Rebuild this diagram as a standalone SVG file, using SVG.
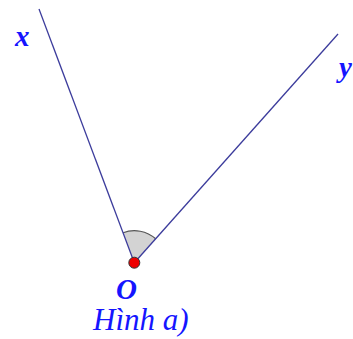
<svg xmlns="http://www.w3.org/2000/svg" width="353" height="339" viewBox="0 0 353 339">
<style>
.ray{stroke:#3c3c9c;stroke-width:1.3;fill:none}
.lbl{font-family:"Liberation Serif",serif;font-style:italic;font-weight:bold;fill:#1515ff}
.cap{font-family:"Liberation Serif",serif;font-style:italic;fill:#1515ff}
</style>
<rect width="353" height="339" fill="#ffffff"/>
<g id="angle">
<path d="M134.3,262.7 L123.1,232.7 A32,32 0 0 1 155.6,238.8 Z" fill="#d3d3d3" stroke="none"/>
<path d="M123.1,232.7 A32,32 0 0 1 155.6,238.8" fill="none" stroke="#555555" stroke-width="1.2"/>
</g>
<g id="connectors">
<line class="ray" x1="134.3" y1="262.7" x2="39" y2="9"/>
<line class="ray" x1="134.3" y1="262.7" x2="338" y2="34"/>
</g>
<g id="node-x"><text class="lbl" x="15" y="46" font-size="29">x</text></g>
<g id="node-y"><text class="lbl" x="339" y="77" font-size="29">y</text></g>
<g id="node-O">
<circle cx="134.3" cy="262.7" r="5.5" fill="#ee0000" stroke="#333333" stroke-width="1"/>
<text class="lbl" x="116" y="299" font-size="29">O</text>
</g>
<g id="caption"><text class="cap" x="93" y="330" font-size="31">Hình a)</text></g>
</svg>
